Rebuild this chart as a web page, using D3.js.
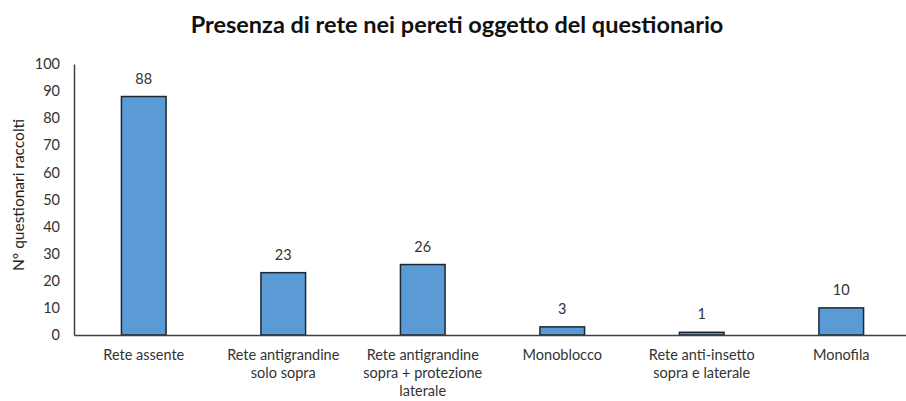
<!DOCTYPE html>
<html><head><meta charset="utf-8">
<script src="https://cdn.jsdelivr.net/npm/d3@7"></script>
<style>body{margin:0;background:#fff}svg{display:block}</style>
</head><body>
<svg id="c" width="906" height="401"></svg>
<script>
const categories = [
  ["Rete assente"],
  ["Rete antigrandine", "solo sopra"],
  ["Rete antigrandine", "sopra + protezione", "laterale"],
  ["Monoblocco"],
  ["Rete anti-insetto", "sopra e laterale"],
  ["Monofila"]
];
const values = [88, 23, 26, 3, 1, 10];
const yTicks = [0,10,20,30,40,50,60,70,80,90,100];
const title = "Presenza di rete nei pereti oggetto del questionario";
const yTitle = "N° questionari raccolti";

const svg = d3.select("#c");
const font = "Lato, 'Open Sans', sans-serif";
const x = d3.scaleBand().domain(d3.range(values.length)).range([74, 911]).paddingInner(0.68).paddingOuter(0.34);
const y = d3.scaleLinear().domain([0, 100]).range([335, 64]);

svg.append("text").attr("x", 457).attr("y", 33).attr("text-anchor", "middle")
  .attr("font-family", font).attr("font-weight", "bold").attr("font-size", 23.5).attr("fill", "#111").text(title);

// y axis
const ya = svg.append("g").attr("transform", "translate(74,0)")
  .call(d3.axisLeft(y).tickValues(yTicks).tickSize(0).tickPadding(14));
ya.select(".domain").attr("stroke", "#404040").attr("stroke-width", 1.5);
ya.selectAll("text").attr("font-family", font).attr("font-size", 14.5).attr("fill", "#333");

svg.append("text").attr("transform", "translate(24,195) rotate(-90)").attr("text-anchor", "middle")
  .attr("font-family", font).attr("font-size", 15.5).attr("fill", "#222").text(yTitle);

// bars
svg.append("g").selectAll("rect").data(values).join("rect")
  .attr("x", (d,i) => x(i)).attr("width", x.bandwidth())
  .attr("y", d => y(d)).attr("height", d => y(0) - y(d))
  .attr("fill", "#5B9BD5").attr("stroke", "#1d2633").attr("stroke-width", 1.5);

svg.append("g").selectAll("text").data(values).join("text")
  .attr("x", (d,i) => x(i) + x.bandwidth()/2).attr("y", d => y(d) - 13)
  .attr("text-anchor", "middle").attr("font-family", font).attr("font-size", 14.5).attr("fill", "#333")
  .text(d => d);

// x axis
const xa = svg.append("g").attr("transform", "translate(0,335)")
  .call(d3.axisBottom(x).tickSize(0).tickFormat(""));
xa.select(".domain").attr("stroke", "#404040").attr("stroke-width", 1.5);
xa.selectAll(".tick").each(function(d) {
  const t = d3.select(this).append("text").attr("fill", "#333").attr("font-family", font)
    .attr("font-size", 14.5).attr("text-anchor", "middle");
  categories[d].forEach((line, k) => {
    t.append("tspan").attr("x", 0).attr("y", 25 + k * 18).text(line);
  });
});
</script>
</body></html>
